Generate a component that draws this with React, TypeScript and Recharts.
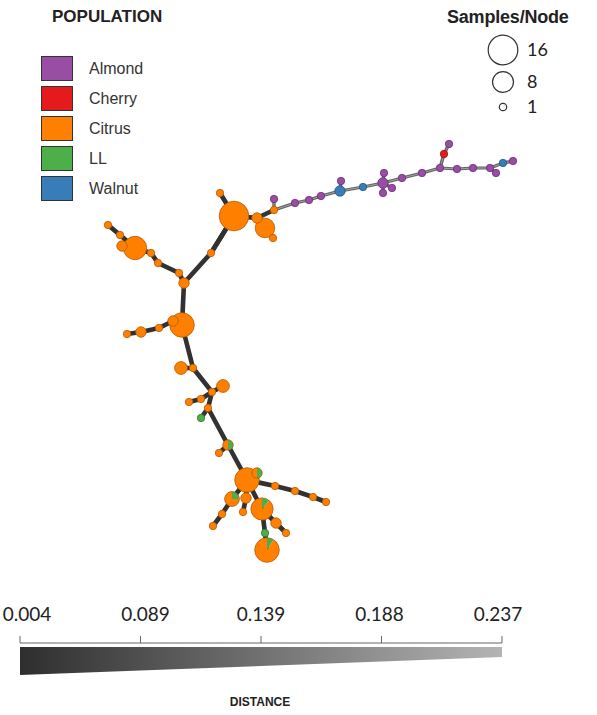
import React from 'react';
import { ScatterChart, Scatter, XAxis, YAxis, ReferenceLine, ComposedChart, Area } from 'recharts';

const POPULATIONS = ['Almond', 'Cherry', 'Citrus', 'LL', 'Walnut'];
const POP_COLORS = ['#984ea3', '#e41a1c', '#ff7f00', '#4daf4a', '#377eb8'];
const POP_STROKES = ['#6b2f78', '#9c1011', '#b85a00', '#2f7a2d', '#24577f'];

// network layout, one entry per node
const nodeX = [
  234, 220, 265, 257, 273, 274, 211, 184, 179, 135,
  158, 151, 122, 120, 108, 182, 173, 159, 141, 127,
  193, 181, 212, 223, 201, 189, 208, 201, 228, 219,
  247, 257, 275, 295, 313, 326, 232, 222, 213, 246,
  243, 262, 276, 286, 265, 267,
  274, 295, 309, 321, 340, 341, 363, 383, 384, 392,
  383, 402, 422, 440, 444, 449, 457, 473, 490, 496,
  503, 513,
];
const nodeY = [
  216, 193, 228, 218, 238, 210, 253, 283, 273, 248,
  263, 253, 246, 235, 225, 325, 321, 328, 332, 334,
  368, 368, 392, 386, 399, 402, 408, 418, 445, 453,
  480, 473, 486, 491, 497, 502, 499, 514, 526, 498,
  512, 509, 523, 533, 533, 550,
  199, 203, 200, 196, 191, 181, 187, 183, 173, 188,
  193, 178, 173, 168, 154, 144, 169, 168, 168, 173,
  163, 161,
];
// samples per node: [Almond, Cherry, Citrus, LL, Walnut]
const nodeCounts = [
  [0, 0, 16, 0, 0], [0, 0, 1, 0, 0], [0, 0, 7, 0, 0], [0, 0, 2, 0, 0], [0, 0, 1, 0, 0],
  [0, 0, 1, 0, 0], [0, 0, 1, 0, 0], [0, 0, 2, 0, 0], [0, 0, 1, 0, 0], [0, 0, 10, 0, 0],
  [0, 0, 1, 0, 0], [0, 0, 1, 0, 0], [0, 0, 2, 0, 0], [0, 0, 1, 0, 0], [0, 0, 1, 0, 0],
  [0, 0, 11, 0, 0], [0, 0, 2, 0, 0], [0, 0, 1, 0, 0], [0, 0, 2, 0, 0], [0, 0, 1, 0, 0],
  [0, 0, 1, 0, 0], [0, 0, 3, 0, 0], [0, 0, 1, 0, 0], [0, 0, 3, 0, 0], [0, 0, 1, 0, 0],
  [0, 0, 1, 0, 0], [0, 0, 1, 0, 0], [0, 0, 0, 1, 0], [0, 0, 1, 1, 0], [0, 0, 1, 0, 0],
  [0, 0, 11, 0, 0], [0, 0, 1, 1, 0], [0, 0, 1, 0, 0], [0, 0, 1, 0, 0], [0, 0, 1, 0, 0],
  [0, 0, 1, 0, 0], [0, 0, 3, 1, 0], [0, 0, 1, 0, 0], [0, 0, 1, 0, 0], [0, 0, 2, 0, 0],
  [0, 0, 1, 0, 0], [0, 0, 8, 1, 0], [0, 0, 2, 0, 0], [0, 0, 1, 0, 0], [0, 0, 0, 1, 0],
  [0, 0, 10, 1, 0],
  [1, 0, 0, 0, 0], [1, 0, 0, 0, 0], [1, 0, 0, 0, 0], [1, 0, 0, 0, 0], [0, 0, 0, 0, 2],
  [1, 0, 0, 0, 0], [0, 0, 0, 0, 1], [2, 0, 0, 0, 0], [1, 0, 0, 0, 0], [1, 0, 0, 0, 0],
  [1, 0, 0, 0, 0], [1, 0, 0, 0, 0], [1, 0, 0, 0, 0], [1, 0, 0, 0, 0], [0, 1, 0, 0, 0],
  [1, 0, 0, 0, 0], [1, 0, 0, 0, 0], [1, 0, 0, 0, 0], [1, 0, 0, 0, 0], [1, 0, 0, 0, 0],
  [0, 0, 0, 0, 1], [1, 0, 0, 0, 0],
];

// minimum spanning tree edges
const edgeFrom = [
  1, 0, 0, 3, 2, 3, 0, 6, 7, 8, 10, 11, 9, 13, 9,
  7, 15, 16, 17, 18, 15, 20, 20, 22, 22, 24, 22, 26, 26, 28,
  28, 30, 30, 32, 33, 34, 30, 36, 37, 30, 39, 30, 41, 42, 41,
  44,
  5, 5, 47, 48, 49, 50, 50, 52, 53, 53, 53, 53, 57, 58, 59,
  60, 59, 62, 63, 64, 64, 66,
];
const edgeTo = [
  0, 3, 6, 2, 4, 5, 6, 7, 8, 10, 11, 9, 13, 14, 12,
  15, 16, 17, 18, 19, 20, 21, 22, 23, 24, 25, 26, 27, 28, 29,
  30, 31, 32, 33, 34, 35, 36, 37, 38, 39, 40, 41, 42, 43, 44,
  45,
  46, 47, 48, 49, 50, 51, 52, 53, 54, 55, 56, 57, 58, 59, 60,
  61, 62, 63, 64, 65, 66, 67,
];
const edgeDist = [
  0.012, 0.01, 0.014, 0.01, 0.012, 0.02, 0.012, 0.014, 0.01, 0.012, 0.01, 0.01, 0.012, 0.012, 0.01,
  0.014, 0.01, 0.012, 0.012, 0.012, 0.014, 0.01, 0.014, 0.012, 0.012, 0.012, 0.014, 0.016, 0.014, 0.012,
  0.014, 0.01, 0.012, 0.014, 0.014, 0.014, 0.01, 0.014, 0.014, 0.01, 0.012, 0.012, 0.012, 0.012, 0.012,
  0.012,
  0.1, 0.11, 0.11, 0.11, 0.11, 0.1, 0.11, 0.11, 0.1, 0.1, 0.1, 0.11, 0.11, 0.11, 0.1,
  0.1, 0.11, 0.11, 0.11, 0.1, 0.11, 0.1,
];

const DIST_TICKS = ['0.004', '0.089', '0.139', '0.188', '0.237'];
const DIST_MIN = 0.004;
const DIST_MAX = 0.237;
const wedgeDepth = [28, 23.5, 19, 14.5, 10];
const SIZE_KEYS = [16, 8, 1];

const nodes = nodeX.map((x, i) => ({ x, y: nodeY[i], counts: nodeCounts[i] }));
const edges = edgeFrom.map((f, i) => ({ a: nodes[f], b: nodes[edgeTo[i]], d: edgeDist[i] }));
const distData = DIST_TICKS.map((label, i) => ({ label, band: [0, wedgeDepth[i]] }));

const radiusFor = (n: number) => 3.7 * Math.sqrt(n);

const edgeColor = (d: number) => {
  const t = (d - DIST_MIN) / (DIST_MAX - DIST_MIN);
  const g = Math.round(45 + t * 120);
  return `rgb(${g},${g},${g})`;
};
const edgeWidth = (d: number) => {
  const t = (d - DIST_MIN) / (DIST_MAX - DIST_MIN);
  return 4.8 - t * 3.5;
};

// pie glyph: slices laid counter-clockwise from 12 o'clock
const NodeShape = (props: any) => {
  const { cx, cy, payload } = props;
  const counts: number[] = payload.counts;
  const total = counts.reduce((s, c) => s + c, 0);
  const r = radiusFor(total);
  const present = counts.map((c, i) => ({ c, i })).filter((s) => s.c > 0);
  if (present.length === 1) {
    const k = present[0].i;
    return <circle cx={cx} cy={cy} r={r} fill={POP_COLORS[k]} stroke={POP_STROKES[k]} strokeWidth={0.8} />;
  }
  let a = -Math.PI / 2;
  const slices = present.map((s) => {
    const sweep = (s.c / total) * Math.PI * 2;
    const b = a - sweep;
    const d = `M${cx},${cy} L${cx + r * Math.cos(a)},${cy + r * Math.sin(a)} A${r},${r} 0 ${sweep > Math.PI ? 1 : 0} 0 ${cx + r * Math.cos(b)},${cy + r * Math.sin(b)} Z`;
    a = b;
    return <path key={s.i} d={d} fill={POP_COLORS[s.i]} />;
  });
  return (
    <g>
      {slices}
      <circle cx={cx} cy={cy} r={r} fill="none" stroke={POP_STROKES[2]} strokeWidth={0.8} />
    </g>
  );
};

// distance labels sit a little inward at the two ends
const TICK_SHIFT = [7, 5, 0, -2, -4];
const DistTick = (props: any) => {
  const { x, y, payload, index } = props;
  return (
    <text x={x + TICK_SHIFT[index]} y={y} textAnchor="middle" fontSize={19} fontFamily="Lato, sans-serif" fill="#222">
      {payload.value}
    </text>
  );
};

export default function App() {
  return (
    <div style={{ position: 'absolute', left: 0, top: 0, width: 597, height: 715, background: '#fff', fontFamily: 'Liberation Sans, Arial, sans-serif' }}>
      <ScatterChart width={597} height={715} margin={{ top: 0, right: 0, bottom: 0, left: 0 }}>
        <XAxis type="number" dataKey="x" domain={[0, 597]} hide />
        <YAxis type="number" dataKey="y" domain={[0, 715]} reversed hide />
        {edges.map((e, i) => (
          <ReferenceLine
            key={`e${i}`}
            segment={[{ x: e.a.x, y: e.a.y }, { x: e.b.x, y: e.b.y }]}
            stroke={edgeColor(e.d)}
            strokeWidth={edgeWidth(e.d)}
            strokeLinecap="round"
          />
        ))}
        {edges.filter((e) => e.d > 0.05).map((e, i) => (
          <ReferenceLine
            key={`h${i}`}
            segment={[{ x: e.a.x, y: e.a.y }, { x: e.b.x, y: e.b.y }]}
            stroke="#a8a8a8"
            strokeWidth={0.9}
          />
        ))}
        <Scatter data={nodes} shape={NodeShape} isAnimationActive={false} />
      </ScatterChart>

      <div style={{ position: 'absolute', left: 0, top: 600 }}>
        <ComposedChart width={597} height={87} data={distData} margin={{ top: 13, right: 95, bottom: 0, left: 20 }}>
          <defs>
            <linearGradient id="distGrad" x1="0" y1="0" x2="1" y2="0">
              <stop offset="0%" stopColor="#2e2e2e" />
              <stop offset="100%" stopColor="#b4b4b4" />
            </linearGradient>
          </defs>
          <XAxis
            dataKey="label"
            orientation="top"
            scale="point"
            padding={{ left: 0, right: 0 }}
            tickSize={7}
            tickMargin={15}
            axisLine={{ stroke: '#666' }}
            tickLine={{ stroke: '#666' }}
            tick={DistTick}
            interval={0}
          />
          <YAxis type="number" domain={[-4, 40]} reversed hide />
          <Area dataKey="band" type="linear" stroke="none" fill="url(#distGrad)" fillOpacity={1} isAnimationActive={false} />
        </ComposedChart>
      </div>
      <div style={{ position: 'absolute', left: 200, width: 120, top: 695, textAlign: 'center', fontWeight: 'bold', fontSize: 12, color: '#222' }}>
        DISTANCE
      </div>

      <div style={{ position: 'absolute', left: 52, top: 7, fontWeight: 'bold', fontSize: 17, color: '#222' }}>
        POPULATION
      </div>
      {POPULATIONS.map((p, i) => (
        <div key={p}>
          <div style={{ position: 'absolute', left: 41, top: 56 + i * 30, width: 30, height: 23, background: POP_COLORS[i], border: '1px solid #333' }} />
          <div style={{ position: 'absolute', left: 89, top: 60 + i * 30, fontSize: 16, color: '#333' }}>{p}</div>
        </div>
      ))}

      <div style={{ position: 'absolute', left: 447, top: 7, fontWeight: 'bold', fontSize: 18, color: '#222', letterSpacing: -0.2 }}>
        Samples/Node
      </div>
      <svg style={{ position: 'absolute', left: 0, top: 0 }} width={597} height={130}>
        {SIZE_KEYS.map((n, i) => {
          const cy = [50, 82, 107][i];
          return (
            <g key={n}>
              <circle cx={503} cy={cy} r={radiusFor(n)} fill="#fff" stroke="#333" strokeWidth={1.2} />
              <text x={527} y={cy} dy="0.35em" fontSize={18} fontFamily="Lato, sans-serif" fill="#222">
                {n}
              </text>
            </g>
          );
        })}
      </svg>
    </div>
  );
}
